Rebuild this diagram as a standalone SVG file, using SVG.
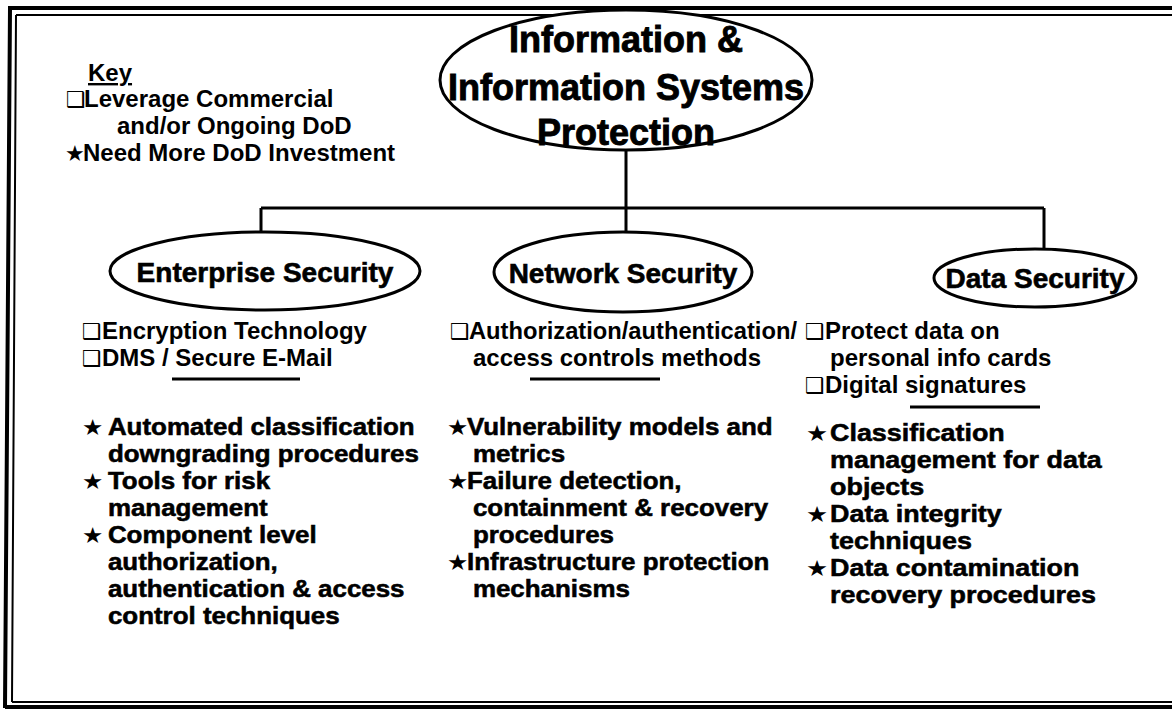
<svg xmlns="http://www.w3.org/2000/svg" width="1172" height="710" viewBox="0 0 1172 710">
<style>
.t{font-family:"Liberation Sans","DejaVu Sans",Arial,sans-serif;font-weight:700;fill:#000}
.k{font-size:24px}
.h{font-size:36px;stroke:#000;stroke-width:0.9}
.n{font-size:28px;stroke:#000;stroke-width:0.6}
.b{font-size:24px}
.s{font-size:24px;stroke:#000;stroke-width:0.55}
.sym{font-family:"DejaVu Sans",sans-serif;stroke:none}
.bx{font-size:22px}
.st{font-size:22px}
.ln{stroke:#000;stroke-width:3;fill:none}
.el{stroke:#000;stroke-width:3;fill:#fff}
</style>
<rect width="1172" height="710" fill="#fff"/>
<g id="frame">
<path d="M10,8 L5,708 M8,8 H1172 M5,707 H1172" stroke="#000" stroke-width="4" fill="none"/>
<path d="M16,15 L12,702 M16,15 H1172 M12,702 H1172" stroke="#000" stroke-width="2" fill="none"/>
</g>
<g id="connectors">
<path class="ln" d="M626,150 V208 M261,208 H1044 M261,208 V233 M626,208 V233 M1044,208 V250"/>
</g>
<g id="key">
<text class="t k"><tspan x="88" y="81" text-decoration="underline">Key</tspan><tspan class="sym bx" x="66" y="107">❑</tspan><tspan x="84" y="107">Leverage Commercial</tspan><tspan x="117" y="134">and/or Ongoing DoD</tspan><tspan class="sym st" x="65" y="161">★</tspan><tspan x="83" y="161">Need More DoD Investment</tspan></text>
</g>
<g id="root">
<ellipse class="el" cx="626" cy="80" rx="186" ry="70"/>
<text class="t h" text-anchor="middle"><tspan x="626" y="52">Information &amp;</tspan><tspan x="626" y="100">Information Systems</tspan><tspan x="626" y="145">Protection</tspan></text>
</g>
<g id="enterprise">
<ellipse class="el" cx="265" cy="271" rx="155" ry="39"/>
<text class="t n" x="265" y="282" text-anchor="middle">Enterprise Security</text>
<text class="t b"><tspan class="sym bx" x="82" y="339">❑</tspan><tspan x="102" y="339">Encryption Technology</tspan><tspan class="sym bx" x="82" y="366">❑</tspan><tspan x="102" y="366">DMS / Secure E-Mail</tspan></text>
<line class="ln" x1="172" y1="379" x2="300" y2="379"/>
<g transform="translate(82,0) scale(1.08,1)">
<text class="t s"><tspan class="sym st" x="0" y="435">★</tspan><tspan x="24" y="435">Automated classification</tspan><tspan x="24" y="462">downgrading procedures</tspan><tspan class="sym st" x="0" y="489">★</tspan><tspan x="24" y="489">Tools for risk</tspan><tspan x="24" y="516">management</tspan><tspan class="sym st" x="0" y="543">★</tspan><tspan x="24" y="543">Component level</tspan><tspan x="24" y="570">authorization,</tspan><tspan x="24" y="597">authentication &amp; access</tspan><tspan x="24" y="624">control techniques</tspan></text>
</g>
</g>
<g id="network">
<ellipse class="el" cx="623" cy="272" rx="129" ry="40"/>
<text class="t n" x="623" y="283" text-anchor="middle">Network Security</text>
<text class="t b"><tspan class="sym bx" x="450" y="339">❑</tspan><tspan x="469" y="339" textLength="328" lengthAdjust="spacingAndGlyphs">Authorization/authentication/</tspan><tspan x="473" y="366">access controls methods</tspan></text>
<line class="ln" x1="530" y1="379" x2="660" y2="379"/>
<g transform="translate(447,0) scale(1.08,1)">
<text class="t s"><tspan class="sym st" x="0" y="435">★</tspan><tspan x="18.5" y="435">Vulnerability models and</tspan><tspan x="24" y="462">metrics</tspan><tspan class="sym st" x="0" y="489">★</tspan><tspan x="18.5" y="489">Failure detection,</tspan><tspan x="24" y="516">containment &amp; recovery</tspan><tspan x="24" y="543">procedures</tspan><tspan class="sym st" x="0" y="570">★</tspan><tspan x="18.5" y="570">Infrastructure protection</tspan><tspan x="24" y="597">mechanisms</tspan></text>
</g>
</g>
<g id="data">
<ellipse class="el" cx="1035" cy="278" rx="101" ry="29"/>
<text class="t n" x="1035" y="288" text-anchor="middle">Data Security</text>
<text class="t b"><tspan class="sym bx" x="805" y="339">❑</tspan><tspan x="825" y="339">Protect data on</tspan><tspan x="830" y="366">personal info cards</tspan><tspan class="sym bx" x="805" y="393">❑</tspan><tspan x="825" y="393">Digital signatures</tspan></text>
<line class="ln" x1="910" y1="407" x2="1040" y2="407"/>
<g transform="translate(806,0) scale(1.12,1)">
<text class="t s"><tspan class="sym st" x="0" y="441">★</tspan><tspan x="21.5" y="441">Classification</tspan><tspan x="21.5" y="468">management for data</tspan><tspan x="21.5" y="495">objects</tspan><tspan class="sym st" x="0" y="522">★</tspan><tspan x="21.5" y="522">Data integrity</tspan><tspan x="21.5" y="549">techniques</tspan><tspan class="sym st" x="0" y="576">★</tspan><tspan x="21.5" y="576">Data contamination</tspan><tspan x="21.5" y="603">recovery procedures</tspan></text>
</g>
</g>
</svg>
